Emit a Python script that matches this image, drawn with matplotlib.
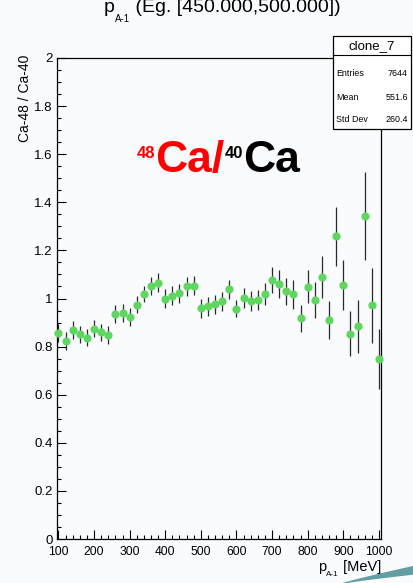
import matplotlib
matplotlib.use("Agg")
import numpy as np
import matplotlib.pyplot as plt
from matplotlib.ticker import MultipleLocator, FuncFormatter
from matplotlib.patches import Rectangle, Polygon
from matplotlib.lines import Line2D

# ---- data -------------------------------------------------------------
p_mev = [100, 120, 140, 160, 180, 200, 220, 240, 260, 280,
         300, 320, 340, 360, 380, 400, 420, 440, 460, 480,
         500, 520, 540, 560, 580, 600, 620, 640, 660, 680,
         700, 720, 740, 760, 780, 800, 820, 840, 860, 880,
         900, 920, 940, 960, 980, 1000]
ratio = [0.855, 0.823, 0.869, 0.851, 0.837, 0.875, 0.860, 0.848, 0.936, 0.940,
         0.924, 0.975, 1.019, 1.051, 1.065, 1.000, 1.012, 1.021, 1.051, 1.054,
         0.960, 0.968, 0.976, 0.988, 1.039, 0.957, 1.003, 0.990, 0.994, 1.020,
         1.078, 1.062, 1.030, 1.017, 0.917, 1.049, 0.992, 1.091, 0.910, 1.258,
         1.055, 0.853, 0.884, 1.344, 0.972, 0.747]
ratio_err = [0.037, 0.037, 0.036, 0.036, 0.036, 0.036, 0.036, 0.036, 0.038, 0.038,
             0.037, 0.037, 0.035, 0.037, 0.039, 0.038, 0.038, 0.038, 0.039, 0.038,
             0.040, 0.040, 0.040, 0.041, 0.040, 0.035, 0.042, 0.042, 0.043, 0.045,
             0.054, 0.058, 0.055, 0.060, 0.055, 0.069, 0.075, 0.087, 0.078, 0.121,
             0.104, 0.094, 0.110, 0.184, 0.156, 0.125]
x_ticks = [100, 200, 300, 400, 500, 600, 700, 800, 900, 1000]
y_ticks = [0, 0.2, 0.4, 0.6, 0.8, 1.0, 1.2, 1.4, 1.6, 1.8, 2.0]

stats_name = "clone_7"
stats_rows = [("Entries", "7644"), ("Mean", "551.6"), ("Std Dev", "260.4")]

# ---- style ------------------------------------------------------------
W, H, DPI = 413, 583, 100
BG = "#f9fbfd"
GREEN = "#5fd65f"
plt.rcParams["font.family"] = ["Liberation Sans", "DejaVu Sans"]

fig = plt.figure(figsize=(W / DPI, H / DPI), dpi=DPI, facecolor=BG)


def fx(px):
    return px / W


def fy(py):
    return 1 - py / H


ax = fig.add_axes([fx(57), fy(539), fx(381) - fx(57), fy(58) - fy(539)])
ax.set_facecolor(BG)
ax.set_xlim(96, 1006)
ax.set_ylim(0, 2)

ax.errorbar(p_mev, ratio, yerr=ratio_err, fmt="none", ecolor="#2a2a2a",
            elinewidth=0.9, capsize=0, zorder=2)
ax.plot(p_mev, ratio, "o", ms=5.9, mfc=GREEN, mec=GREEN, mew=0,
        clip_on=False, zorder=3)

ax.set_xticks(x_ticks)
ax.set_yticks(y_ticks)
ax.xaxis.set_minor_locator(MultipleLocator(20))
ax.yaxis.set_minor_locator(MultipleLocator(0.05))
ax.yaxis.set_major_formatter(FuncFormatter(lambda v, _: f"{v:g}"))
ax.tick_params(which="both", direction="in", top=False, right=False,
               width=0.8, color="black")
ax.tick_params(which="major", length=6.5)
ax.tick_params(which="minor", length=3.2)
ax.tick_params(axis="x", labelsize=8.7, pad=5)
ax.tick_params(axis="y", labelsize=9.5, pad=3)
for s in ax.spines.values():
    s.set_linewidth(0.9)
    s.set_color("black")

renderer = fig.canvas.get_renderer()


def text_run(x_px, y_px, pieces, ha="left"):
    """Draw consecutive text pieces (text, size, color, weight, dy_px)
    on a common baseline starting at pixel position (x_px, y_px)."""
    widths = []
    for s, size, color, weight, dy in pieces:
        t = fig.text(0, 0, s, fontsize=size, fontweight=weight)
        widths.append(t.get_window_extent(renderer).width)
        t.remove()
    total = sum(widths)
    x0 = x_px - total if ha == "right" else (x_px - total / 2 if ha == "center" else x_px)
    for (s, size, color, weight, dy), w in zip(pieces, widths):
        fig.text(fx(x0), fy(y_px + dy), s, fontsize=size, color=color,
                 fontweight=weight, ha="left", va="baseline")
        x0 += w


# title (its top runs off the canvas)
text_run(104, 12, [("p", 14, "black", "normal", 0),
                   ("A-1", 7, "black", "normal", 10),
                   (" (Eg. [450.000,500.000])", 14, "black", "normal", 0)])

# x-axis title
text_run(381, 571, [("p", 10.5, "black", "normal", 0),
                    ("A-1", 5.8, "black", "normal", 5),
                    (" [MeV]", 10.5, "black", "normal", 0)], ha="right")

# y-axis title
fig.text(fx(25), fy(55), "Ca-48 / Ca-40", rotation=90, fontsize=10,
         ha="center", va="top")

# ratio label
text_run(137, 172, [("48", 12, "red", "bold", -14),
                    ("Ca/", 32, "red", "bold", 0),
                    ("40", 12, "black", "bold", -14),
                    ("Ca", 32, "black", "bold", 0)])

# statistics box
box_l, box_r, box_t, box_b = 333, 411, 36, 129
fig.patches.append(Rectangle((fx(box_l), fy(box_b)), fx(box_r) - fx(box_l),
                             fy(box_t) - fy(box_b), transform=fig.transFigure,
                             facecolor="white", edgecolor="black", lw=0.9,
                             zorder=5))
fig.lines.append(Line2D([fx(box_l), fx(box_r)], [fy(55), fy(55)],
                        transform=fig.transFigure, color="black", lw=0.8,
                        zorder=6))
fig.text(fx((box_l + box_r) / 2), fy(46), stats_name, fontsize=9.5,
         ha="center", va="center", zorder=7)
for (name, val), yy in zip(stats_rows, [73, 97, 120]):
    fig.text(fx(box_l + 3), fy(yy), name, fontsize=6.4, ha="left",
             va="center", zorder=7)
    fig.text(fx(box_r - 3), fy(yy), val, fontsize=6.4, ha="right",
             va="center", zorder=7)

# decorative teal swoosh in the lower right corner (a tapered wedge)
t = np.linspace(0, 1, 30)
cx = 340 + 75 * t
cy = 584 - 14 * t ** 0.9
half = 0.3 + 4.2 * t
upper = [(fx(a), fy(b - h)) for a, b, h in zip(cx, cy, half)]
lower = [(fx(a), fy(b + h)) for a, b, h in zip(cx[::-1], cy[::-1], half[::-1])]
fig.patches.append(Polygon(upper + lower, closed=True, transform=fig.transFigure,
                           facecolor="#4a8e92", edgecolor="none", alpha=0.85,
                           zorder=1))

fig.savefig("out.png", dpi=DPI, facecolor=BG)
